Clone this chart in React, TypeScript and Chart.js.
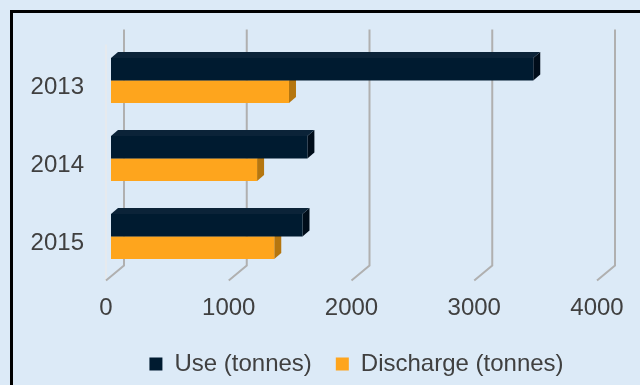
import React, { useEffect, useRef } from "react";
import { Chart, registerables } from "chart.js";

Chart.register(...registerables);

// Annual figures, in tonnes
const years = ["2013", "2014", "2015"];
const useTonnes = [3440, 1600, 1560];
const dischargeTonnes = [1450, 1190, 1330];
const seriesNames = ["Use (tonnes)", "Discharge (tonnes)"];
const axisMax = 4000;
const axisStep = 1000;

const FONT = "'Liberation Sans', Arial, sans-serif";
const TEXT = "#404040";
const FRONT = ["#001b30", "#fea51d"];
const SIDE = ["#000d1a", "#b5760f"];
const TOP = ["#0b2338", "#e39618"];

// Perspective offsets for the pseudo-3D box and the bar prisms
const WALL_DX = 18;
const WALL_DY = 15;
const BAR_SHIFT = 5; // bar face sits this far behind the front plane
const BAR_DX = 7;
const BAR_DY = 6;

const depthPlugin = {
  id: "depth3d",
  beforeDatasetsDraw(chart: any) {
    const { ctx, chartArea, scales } = chart;
    const xs = scales.x;
    const backTop = chartArea.top - 12;
    const backBottom = chartArea.bottom - 10;
    const frontBottom = backBottom + WALL_DY;
    ctx.save();

    // left wall front edge
    const zero = xs.getPixelForValue(0) - BAR_SHIFT;
    ctx.strokeStyle = "#e6eaee";
    ctx.lineWidth = 2;
    ctx.beginPath();
    ctx.moveTo(zero, backTop + WALL_DY);
    ctx.lineTo(zero, frontBottom);
    ctx.stroke();

    // back-wall gridlines bending onto the floor
    ctx.strokeStyle = "#b0b0b0";
    ctx.lineWidth = 2;
    xs.ticks.forEach((t: any) => {
      const front = xs.getPixelForValue(t.value) - BAR_SHIFT;
      const back = front + WALL_DX;
      ctx.beginPath();
      ctx.moveTo(back, backTop);
      ctx.lineTo(back, backBottom);
      ctx.lineTo(front, frontBottom);
      ctx.stroke();
    });

    // side and top faces of each bar
    chart.data.datasets.forEach((_: any, di: number) => {
      const meta = chart.getDatasetMeta(di);
      meta.data.forEach((bar: any) => {
        const { x, y, base, height } = bar.getProps(["x", "y", "base", "height"], true);
        const top = y - height / 2;
        const bottom = y + height / 2;
        ctx.fillStyle = SIDE[di];
        ctx.beginPath();
        ctx.moveTo(x, top);
        ctx.lineTo(x + BAR_DX, top - BAR_DY);
        ctx.lineTo(x + BAR_DX, bottom - BAR_DY);
        ctx.lineTo(x, bottom);
        ctx.closePath();
        ctx.fill();
        ctx.fillStyle = TOP[di];
        ctx.beginPath();
        ctx.moveTo(base, top);
        ctx.lineTo(base + BAR_DX, top - BAR_DY);
        ctx.lineTo(x + BAR_DX, top - BAR_DY);
        ctx.lineTo(x, top);
        ctx.closePath();
        ctx.fill();
      });
    });
    ctx.restore();
  },
};

export default function App() {
  const canvasRef = useRef<HTMLCanvasElement | null>(null);

  useEffect(() => {
    if (!canvasRef.current) return;
    const chart = new Chart(canvasRef.current, {
      type: "bar",
      data: {
        labels: years,
        datasets: [
          {
            label: seriesNames[0],
            data: useTonnes,
            backgroundColor: FRONT[0],
            borderWidth: 0,
            categoryPercentage: 0.58,
            barPercentage: 1,
          },
          {
            label: seriesNames[1],
            data: dischargeTonnes,
            backgroundColor: FRONT[1],
            borderWidth: 0,
            categoryPercentage: 0.58,
            barPercentage: 1,
          },
        ],
      },
      options: {
        indexAxis: "y",
        animation: false,
        responsive: false,
        layout: { padding: { left: 0, right: 38, top: 41.5, bottom: -1 } },
        scales: {
          x: {
            min: 0,
            max: axisMax,
            grid: { display: false, drawTicks: false },
            border: { display: false },
            ticks: {
              stepSize: axisStep,
              labelOffset: -BAR_SHIFT,
              padding: 18,
              color: TEXT,
              font: { family: FONT, size: 24 },
              maxRotation: 0,
              callback: (v: any) => String(v),
            },
            afterFit(scale: any) {
              scale.height = 52.5;
              scale.paddingLeft = 0;
              scale.paddingRight = 0;
            },
          },
          y: {
            grid: { display: false, drawTicks: false },
            border: { display: false },
            ticks: {
              labelOffset: 6.5,
              padding: 27,
              color: TEXT,
              font: { family: FONT, size: 24 },
            },
            afterFit(scale: any) {
              scale.width = 111;
            },
          },
        },
        plugins: {
          legend: {
            position: "bottom",
            fullSize: false,
            labels: {
              boxWidth: 13,
              boxHeight: 13,
              padding: 24,
              color: TEXT,
              font: { family: FONT, size: 24 },
            },
          },
          tooltip: { enabled: false },
        },
      },
      plugins: [depthPlugin],
    });
    return () => chart.destroy();
  }, []);

  return (
    <div
      style={{
        position: "fixed",
        left: 0,
        top: 0,
        width: 640,
        height: 385,
        overflow: "hidden",
        background: "#dceaf7",
      }}
    >
      <div
        style={{
          position: "absolute",
          left: 10,
          top: 10,
          width: 700,
          height: 450,
          border: "3px solid #000",
          boxSizing: "border-box",
        }}
      />
      <canvas
        ref={canvasRef}
        width={640}
        height={385}
        style={{ position: "absolute", left: 0, top: 0, width: 640, height: 385 }}
      />
    </div>
  );
}
